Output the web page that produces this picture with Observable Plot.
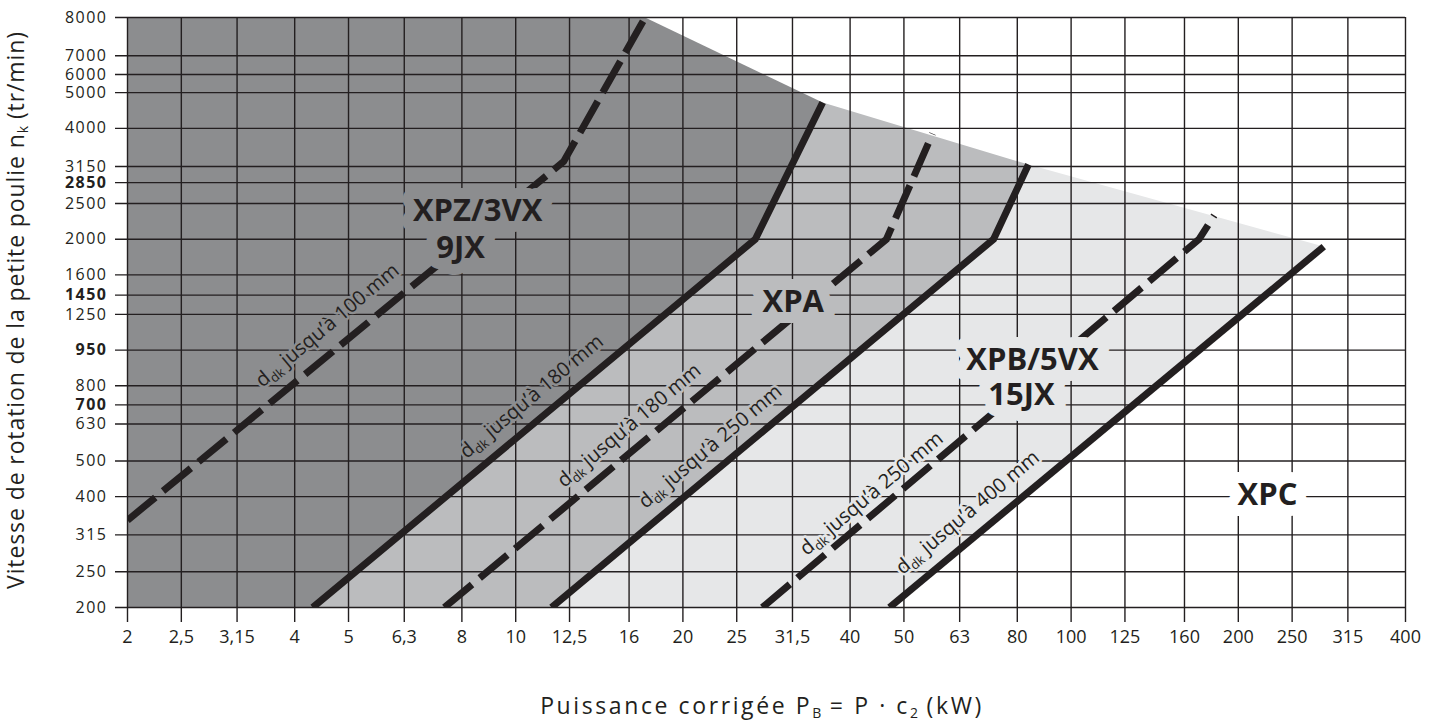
<!DOCTYPE html>
<html><head><meta charset="utf-8">
<script src="https://cdn.jsdelivr.net/npm/d3@7"></script>
<script src="https://cdn.jsdelivr.net/npm/@observablehq/plot@0.6"></script>
<style>
body{margin:0;background:#fff;font-family:"Open Sans",sans-serif;color:#231f20;}
#wrap{position:relative;width:1432px;height:724px;overflow:hidden;}
#wrap svg{position:absolute;left:0;top:0;}
.xt{position:absolute;left:262px;width:1000px;top:690px;text-align:center;font-size:23px;letter-spacing:2.6px;line-height:30px;white-space:nowrap;}
.yt{position:absolute;left:-285px;width:600px;top:295px;height:30px;line-height:30px;text-align:center;font-size:23px;letter-spacing:0.9px;white-space:nowrap;transform:rotate(-90deg);}
sub{font-size:14px;vertical-align:-4px;line-height:0;letter-spacing:0;}
</style></head><body><div id="wrap"></div>
<script>
// ---- tick values and labels ----
const xTicks = [2,2.5,3.15,4,5,6.3,8,10,12.5,16,20,25,31.5,40,50,63,80,100,125,160,200,250,315,400];
const xTickLabels = ["2","2,5","3,15","4","5","6,3","8","10","12,5","16","20","25","31,5","40","50","63","80","100","125","160","200","250","315","400"];
const yTickPos = [200,250,315,400,500,630,710,800,1000,1250,1410,1600,2000,2500,2850,3150,4000,5000,5600,6300,8000];
const yTickLabels = ["200","250","315","400","500","630","700","800","950","1250","1450","1600","2000","2500","2850","3150","4000","5000","6000","7000","8000"];
const yTickBold = [false,false,false,false,false,false,true,false,true,false,true,false,false,false,true,false,false,false,false,false,false];

// ---- belt limit lines [P (kW), n (tr/min)] ----
const dashed100 = [[2,345],[12.2,3250],[17.1,8000]];
const solid180  = [[4.31,200],[27.0,2000],[35.7,4700]];
const dashed180 = [[7.44,200],[46.5,2000],[56.3,3870]];
const solid250  = [[11.6,200],[72.5,2000],[83.8,3190]];
const dashed250 = [[27.8,200],[170,2000],[181,2320]];
const solid400  = [[47.1,200],[285,1910]];
const topBoundary = [[17.1,8000],[35.7,4700],[83.8,3190],[285,1910]];

// ---- labels ----
const diamLabels = [
  {x:4.58, y:1167, text:"d_dk jusqu’à 100 mm", bg:"#8c8d8f"},
  {x:10.68,y:748,  text:"d_dk jusqu’à 180 mm", bg:"#8c8d8f"},
  {x:16.0, y:624,  text:"d_dk jusqu’à 180 mm", bg:"#bbbcbe"},
  {x:22.4, y:547,  text:"d_dk jusqu’à 250 mm", bg:"#bbbcbe"},
  {x:43.7, y:408,  text:"d_dk jusqu’à 250 mm", bg:"#e6e7e8"},
  {x:65.1, y:362,  text:"d_dk jusqu’à 400 mm", bg:"#e6e7e8"}
];
const profileLabels = [
  {x:8.54, y:2378, text:"XPZ/3VX", bg:"#8c8d8f"},
  {x:7.96, y:1887, text:"9JX",     bg:"#8c8d8f"},
  {x:31.6, y:1346, text:"XPA",     bg:"#bbbcbe"},
  {x:85.2, y:937,  text:"XPB/5VX", bg:"#e6e7e8"},
  {x:81.4, y:753,  text:"15JX",    bg:"#e6e7e8"},
  {x:225.8,y:403,  text:"XPC",     bg:"#ffffff"}
];

// regions built from the lines
const darkRegion = [[2,200], ...solid180, topBoundary[0], [2,8000]];
const mediumRegion = [...solid180, ...solid250.slice().reverse()];
const lightRegion = [...solid250, topBoundary[3], ...solid400.slice().reverse()];

const X = d => d[0], Y = d => d[1];
const ink = "#231f20";
const lineStyle = {x:X, y:Y, stroke:ink, strokeWidth:7, strokeLinecap:"butt", strokeLinejoin:"miter", strokeMiterlimit:4, clip:"frame"};
const dashStyle = {...lineStyle, strokeDasharray:"36,10"};

const yNormal = yTickPos.filter((d,i) => !yTickBold[i]);
const yBold = yTickPos.filter((d,i) => yTickBold[i]);
const yFmt = d => yTickLabels[yTickPos.indexOf(d)];
const xFmt = d => xTickLabels[xTicks.indexOf(d)];

const chart = Plot.plot({
  width:1432, height:724,
  marginLeft:127, marginRight:27, marginTop:17, marginBottom:117,
  style:{fontFamily:"Open Sans", fontSize:"17px", color:ink, background:"transparent", overflow:"visible"},
  x:{type:"log", domain:[2,400], axis:null},
  y:{type:"log", domain:[200,8000], axis:null},
  color:{type:"identity"},
  marks:[
    Plot.line(darkRegion, {x:X, y:Y, fill:"#8c8d8f", stroke:"none"}),
    Plot.line(mediumRegion, {x:X, y:Y, fill:"#bbbcbe", stroke:"none"}),
    Plot.line(lightRegion, {x:X, y:Y, fill:"#e6e7e8", stroke:"none"}),
    // grid lines, extended outside the frame as ticks
    Plot.ruleX(xTicks, {x:d => d, stroke:ink, strokeWidth:1.4, insetBottom:-15}),
    Plot.ruleY(yTickPos, {y:d => d, stroke:ink, strokeWidth:1.4, insetLeft:-12}),
    // tick labels
    Plot.text(xTicks, {x:d => d, text:xFmt, frameAnchor:"bottom", dy:35, fontSize:18, fill:ink}),
    Plot.text(yNormal, {y:d => d, text:yFmt, frameAnchor:"left", dx:-20, textAnchor:"end", fontSize:16, fill:ink}),
    Plot.text(yBold, {y:d => d, text:yFmt, frameAnchor:"left", dx:-20, textAnchor:"end", fontSize:16, fontWeight:"bold", fill:ink}),
    Plot.text(diamLabels, {x:"x", y:"y", text:"text", rotate:-40, fontSize:20, fill:ink, stroke:"bg", strokeWidth:5}),
    Plot.line(dashed100, dashStyle),
    Plot.line(solid180, lineStyle),
    Plot.line(dashed180, dashStyle),
    Plot.line(solid250, lineStyle),
    Plot.line(dashed250, dashStyle),
    Plot.line(solid400, lineStyle),
    Plot.text(profileLabels, {x:"x", y:"y", text:"text", fontSize:31, fontWeight:"bold", fill:ink, stroke:"bg", strokeWidth:22, strokeLinejoin:"round"})
  ]
});

// subscript "dk" in diameter labels; letter spacing on y tick labels
d3.select(chart).selectAll("text").each(function(){
  const t = this.textContent;
  if (t.startsWith("d_dk")) {
    const s = d3.select(this);
    s.text(null);
    s.append("tspan").text("d");
    s.append("tspan").attr("dy", 4).attr("font-size", "13px").text("dk");
    s.append("tspan").attr("dy", -4).text(t.slice(4));
  } else if (yTickLabels.includes(t) && this.closest("g") && this.closest("g").getAttribute("text-anchor") === "end") {
    this.style.letterSpacing = "1.5px";
  }
});

const wrap = document.getElementById("wrap");
wrap.appendChild(chart);
const xt = document.createElement("div");
xt.className = "xt";
xt.innerHTML = "Puissance corrigée P<sub>B</sub> = P · c<sub>2</sub> (kW)";
wrap.appendChild(xt);
const yt = document.createElement("div");
yt.className = "yt";
yt.innerHTML = "Vitesse de rotation de la petite poulie n<sub>k</sub> (tr/min)";
wrap.appendChild(yt);
</script></body></html>
